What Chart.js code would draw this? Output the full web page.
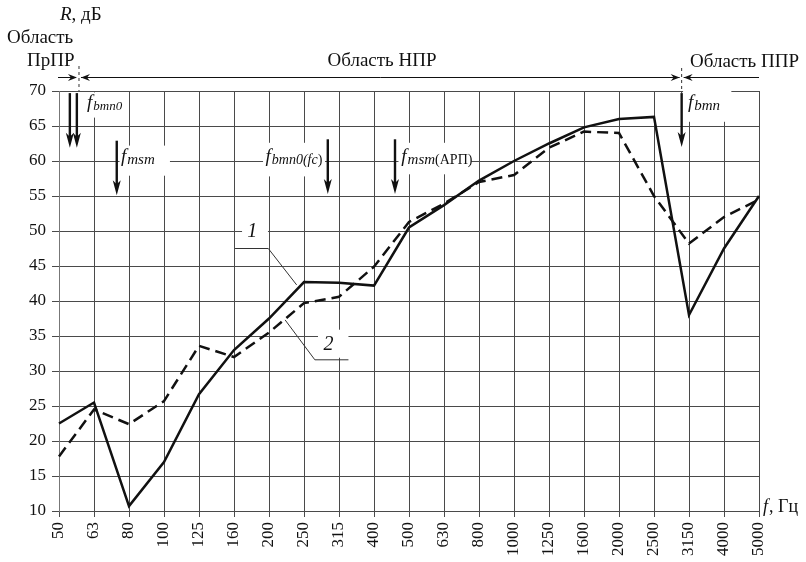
<!DOCTYPE html>
<html>
<head>
<meta charset="utf-8">
<script src="https://cdn.jsdelivr.net/npm/chart.js@4/dist/chart.umd.min.js"></script>
<style>
  html, body { margin: 0; padding: 0; background: #fff; }
  canvas { display: block; }
</style>
</head>
<body>
<canvas id="chart" width="806" height="562"></canvas>
<script>
// Octave-third frequency bands, Hz
const categories = ['50','63','80','100','125','160','200','250','315','400','500',
                    '630','800','1000','1250','1600','2000','2500','3150','4000','5000'];
// Curve 1 (solid) – sound insulation R, dB
const series1 = [22.5, 25.5, 10.7, 17.0, 26.7, 33.0, 37.5, 42.7, 42.6, 42.2, 50.5,
                 53.7, 57.2, 60.0, 62.5, 64.8, 66.0, 66.3, 38.0, 47.5, 55.0];
// Curve 2 (dashed) – sound insulation R, dB
const series2 = [17.8, 24.5, 22.4, 25.7, 33.6, 32.0, 35.5, 39.7, 40.6, 44.9, 51.3,
                 53.9, 57.0, 58.0, 61.9, 64.2, 64.0, 55.0, 48.2, 52.0, 54.5];
// Y axis range and step, dB
const yTicks = { min: 10, max: 70, step: 5 };

const SERIF = '"Liberation Serif", "Times New Roman", serif';
const INK = '#111';
const GRID = '#4a4a4a';

// Characteristic frequency markers: position as fractional band index, arrow span in dB
const markers = [
  { at: 0.31, from: 69.7, to: 61.9 },
  { at: 0.51, from: 69.7, to: 61.9 },
  { at: 1.65, from: 62.9, to: 55.1 },
  { at: 7.68, from: 63.1, to: 55.3 },
  { at: 9.60, from: 63.1, to: 55.3 },
  { at: 17.79, from: 69.7, to: 62.0 }
];

// Marker captions: text runs, start position (band index), baseline (dB), white backing box
const captions = [
  { at: 0.80, base: 67.6, box: [0.69, 2.0, 69.8, 66.2],
    runs: [['f', 'italic', 19, 0], ['bmn0', 'italic', 13, 2]] },
  { at: 1.77, base: 59.9, box: [1.73, 3.17, 62.2, 57.9],
    runs: [['f', 'italic', 19, 0], ['msm', 'italic', 15, 2]] },
  { at: 5.90, base: 59.8, box: [5.83, 7.6, 62.6, 57.8],
    runs: [['f', 'italic', 19, 0], ['bmn0(', 'italic', 14, 2], ['fc', 'italic', 14, 2], [')', 'normal', 14, 2]] },
  { at: 9.78, base: 59.8, box: [9.70, 11.78, 62.6, 58.1],
    runs: [['f', 'italic', 19, 0], ['msm', 'italic', 15, 2], ['(АРП)', 'normal', 14, 2]] },
  { at: 17.97, base: 67.6, box: [17.83, 19.21, 70.4, 65.6],
    runs: [['f', 'italic', 19, 0], ['bmn', 'italic', 15, 2]] }
];

const annotations = {
  id: 'annotations',
  afterDatasetsDraw(chart) {
    const ctx = chart.ctx;
    const xs = chart.scales.x, ys = chart.scales.y;
    const X = i => xs.getPixelForValue(i);
    const Y = v => ys.getPixelForValue(v);
    ctx.save();

    // white backing boxes behind captions
    ctx.fillStyle = '#fff';
    captions.forEach(c => {
      const [i0, i1, v0, v1] = c.box;
      ctx.fillRect(X(i0), Y(v0), X(i1) - X(i0), Y(v1) - Y(v0));
    });
    // boxes behind curve numbers
    ctx.fillRect(X(5.23), Y(51.6), X(5.97) - X(5.23), Y(48.3) - Y(51.6));
    ctx.fillRect(X(7.40), Y(35.9), X(8.27) - X(7.40), Y(31.9) - Y(35.9));

    // captions
    ctx.fillStyle = INK;
    ctx.textBaseline = 'alphabetic';
    ctx.textAlign = 'left';
    captions.forEach(c => {
      let x = X(c.at);
      const b = Y(c.base);
      c.runs.forEach(([t, style, size, dy]) => {
        ctx.font = style + ' ' + size + 'px ' + SERIF;
        ctx.fillText(t, x, b + dy);
        x += ctx.measureText(t).width + (t === 'f' ? 1 : 0);
      });
    });

    // vertical marker arrows
    ctx.strokeStyle = INK;
    ctx.lineWidth = 2.4;
    markers.forEach(m => {
      const x = X(m.at), y0 = Y(m.from), y1 = Y(m.to);
      ctx.beginPath();
      ctx.moveTo(x, y0);
      ctx.lineTo(x, y1 - 8);
      ctx.stroke();
      ctx.beginPath();
      ctx.moveTo(x, y1);
      ctx.lineTo(x - 4, y1 - 15);
      ctx.lineTo(x, y1 - 11);
      ctx.lineTo(x + 4, y1 - 15);
      ctx.closePath();
      ctx.fill();
    });

    // curve numbers and leader lines
    ctx.font = 'italic 20px ' + SERIF;
    ctx.textAlign = 'center';
    ctx.textBaseline = 'middle';
    ctx.fillText('1', X(5.52), Y(49.9));
    ctx.fillText('2', X(7.70), Y(33.8));
    ctx.lineWidth = 1;
    ctx.strokeStyle = '#333';
    ctx.beginPath();
    ctx.moveTo(X(5.03), Y(47.5));
    ctx.lineTo(X(5.98), Y(47.5));
    ctx.lineTo(X(6.79), Y(42.3));
    ctx.moveTo(X(6.46), Y(37.3));
    ctx.lineTo(X(7.31), Y(31.6));
    ctx.lineTo(X(8.27), Y(31.6));
    ctx.stroke();

    // region boundaries above the plot
    const top = chart.chartArea.top;
    const ay = 77.5;
    const bx1 = X(0.571), bx2 = X(17.79);
    ctx.setLineDash([3, 3]);
    ctx.beginPath();
    ctx.moveTo(bx1, 66); ctx.lineTo(bx1, top);
    ctx.moveTo(bx2, 68); ctx.lineTo(bx2, top + 2);
    ctx.stroke();
    ctx.setLineDash([]);

    const head = (tx, dir) => {
      ctx.beginPath();
      ctx.moveTo(tx, ay);
      ctx.lineTo(tx - dir * 9, ay - 3.5);
      ctx.lineTo(tx - dir * 6, ay);
      ctx.lineTo(tx - dir * 9, ay + 3.5);
      ctx.closePath();
      ctx.fill();
    };
    ctx.strokeStyle = INK;
    ctx.beginPath();
    ctx.moveTo(X(0) - 1, ay); ctx.lineTo(bx1 - 3, ay);
    ctx.moveTo(bx1 + 2, ay); ctx.lineTo(bx2 - 2, ay);
    ctx.moveTo(bx2 + 2, ay); ctx.lineTo(X(20), ay);
    ctx.stroke();
    head(bx1 - 2, 1);
    head(bx1 + 2, -1);
    head(bx2 - 2, 1);
    head(bx2 + 2, -1);

    // region titles and axis titles
    ctx.fillStyle = INK;
    ctx.textBaseline = 'middle';
    ctx.font = '19px ' + SERIF;
    ctx.textAlign = 'left';
    ctx.fillText('Область', 7, 38);
    ctx.fillText('ПрПР', 27, 61);
    ctx.textAlign = 'center';
    ctx.fillText('Область НПР', 382, 61);
    ctx.textAlign = 'left';
    ctx.fillText('Область ППР', 690, 62);

    // R, дБ
    ctx.font = 'italic 19px ' + SERIF;
    ctx.fillText('R', 60, 15);
    let w = ctx.measureText('R').width;
    ctx.font = '19px ' + SERIF;
    ctx.fillText(', дБ', 60 + w, 15);

    // f, Гц
    ctx.font = 'italic 18px ' + SERIF;
    ctx.fillText('f', 763, 507);
    w = ctx.measureText('f').width;
    ctx.font = '18px ' + SERIF;
    ctx.fillText(', Гц', 763 + w + 1, 507);

    ctx.restore();
  }
};

new Chart(document.getElementById('chart'), {
  type: 'line',
  data: {
    labels: categories,
    datasets: [
      { label: '1', data: series1, borderColor: INK, borderWidth: 2.5,
        pointRadius: 0, tension: 0, fill: false },
      { label: '2', data: series2, borderColor: INK, borderWidth: 2.5,
        borderDash: [11, 6], pointRadius: 0, tension: 0, fill: false }
    ]
  },
  options: {
    responsive: false,
    animation: false,
    devicePixelRatio: 1,
    layout: { padding: { top: 91, right: 47, left: 0, bottom: 0 } },
    plugins: { legend: { display: false }, tooltip: { enabled: false } },
    scales: {
      x: {
        type: 'category',
        offset: false,
        grid: { color: GRID, lineWidth: 1, tickLength: 6 },
        border: { color: GRID },
        ticks: {
          autoSkip: false, minRotation: 90, maxRotation: 90, padding: 5,
          color: INK, font: { family: SERIF, size: 17 }
        },
        afterFit: s => { s.height = 51; }
      },
      y: {
        min: yTicks.min, max: yTicks.max,
        grid: { color: GRID, lineWidth: 1, tickLength: 7 },
        border: { color: '#777' },
        ticks: {
          stepSize: yTicks.step, padding: 6,
          color: INK, font: { family: SERIF, size: 17 }
        },
        afterFit: s => { s.width = 59; }
      }
    }
  },
  plugins: [annotations]
});
</script>
</body>
</html>
